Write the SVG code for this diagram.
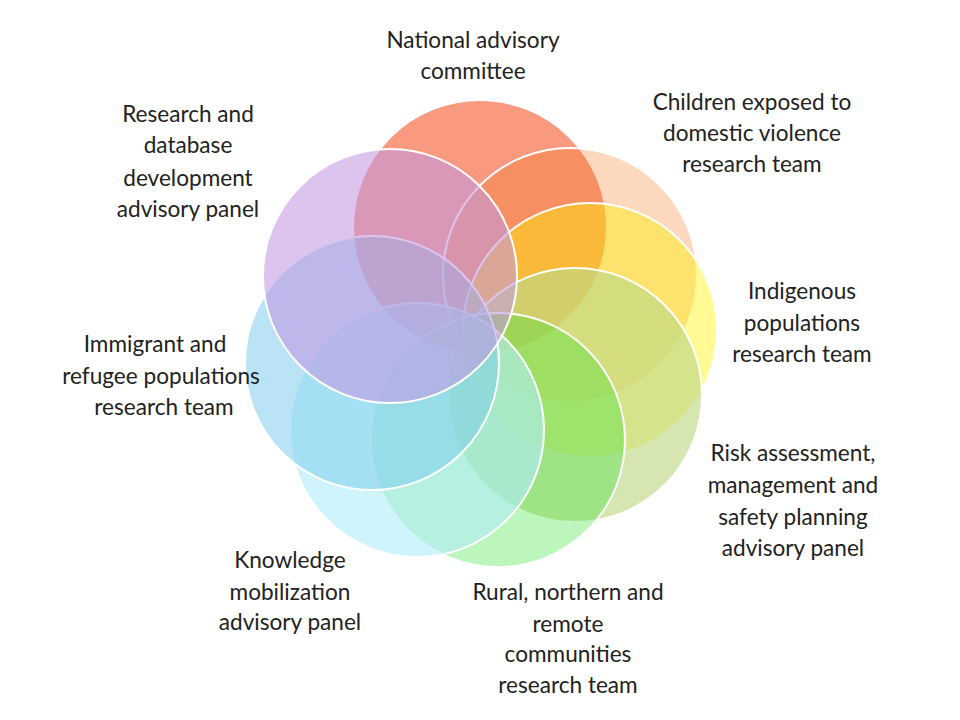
<svg xmlns="http://www.w3.org/2000/svg" width="960" height="720" viewBox="0 0 960 720">
  <style>
    .c { stroke: #ffffff; stroke-width: 2; }
    .t { font-family: Lato, "Open Sans", "Liberation Sans", sans-serif; font-size: 22.6px; fill: #222222; text-anchor: middle; }
  </style>
  <rect width="960" height="720" fill="#ffffff"/>
  <g id="circles">
    <g id="n1"><circle class="c" cx="480" cy="227" r="127" fill="#F44718" fill-opacity="0.55"/></g>
    <g id="n2"><circle class="c" cx="570" cy="275" r="127" fill="#F07417" fill-opacity="0.28"/></g>
    <g id="n3"><circle class="c" cx="590" cy="330" r="127" fill="#FFF300" fill-opacity="0.42"/></g>
    <g id="n4"><circle class="c" cx="575" cy="395" r="127" fill="#BFD987" fill-opacity="0.66"/></g>
    <g id="n5"><circle class="c" cx="498" cy="440" r="127" fill="#22E122" fill-opacity="0.3"/></g>
    <g id="n6"><circle class="c" cx="417" cy="430" r="127" fill="#B1EDFA" fill-opacity="0.6"/></g>
    <g id="n7"><circle class="c" cx="372" cy="363" r="127" fill="#7DCCEC" fill-opacity="0.53"/></g>
    <g id="n8"><circle class="c" cx="390" cy="276" r="127" fill="#C297E1" fill-opacity="0.57"/></g>
  </g>
  <g id="connectors"></g>
  <g id="labels">
    <g id="l1"><text class="t" x="473" y="48">National advisory</text><text class="t" x="473" y="79">committee</text></g>
    <g id="l2"><text class="t" x="752" y="110">Children exposed to</text><text class="t" x="752" y="141">domestic violence</text><text class="t" x="752" y="172">research team</text></g>
    <g id="l3"><text class="t" x="802" y="299">Indigenous</text><text class="t" x="802" y="331">populations</text><text class="t" x="802" y="362">research team</text></g>
    <g id="l4"><text class="t" x="793" y="461">Risk assessment,</text><text class="t" x="793" y="493">management and</text><text class="t" x="793" y="525">safety planning</text><text class="t" x="793" y="556">advisory panel</text></g>
    <g id="l5"><text class="t" x="568" y="600">Rural, northern and</text><text class="t" x="568" y="632">remote</text><text class="t" x="568" y="662">communities</text><text class="t" x="568" y="693">research team</text></g>
    <g id="l6"><text class="t" x="290" y="568">Knowledge</text><text class="t" x="290" y="600">mobilization</text><text class="t" x="290" y="630">advisory panel</text></g>
    <g id="l7"><text class="t" x="155" y="352">Immigrant and</text><text class="t" x="161" y="384">refugee populations</text><text class="t" x="164" y="415">research team</text></g>
    <g id="l8"><text class="t" x="188" y="122">Research and</text><text class="t" x="188" y="153">database</text><text class="t" x="188" y="186">development</text><text class="t" x="188" y="217">advisory panel</text></g>
  </g>
</svg>
